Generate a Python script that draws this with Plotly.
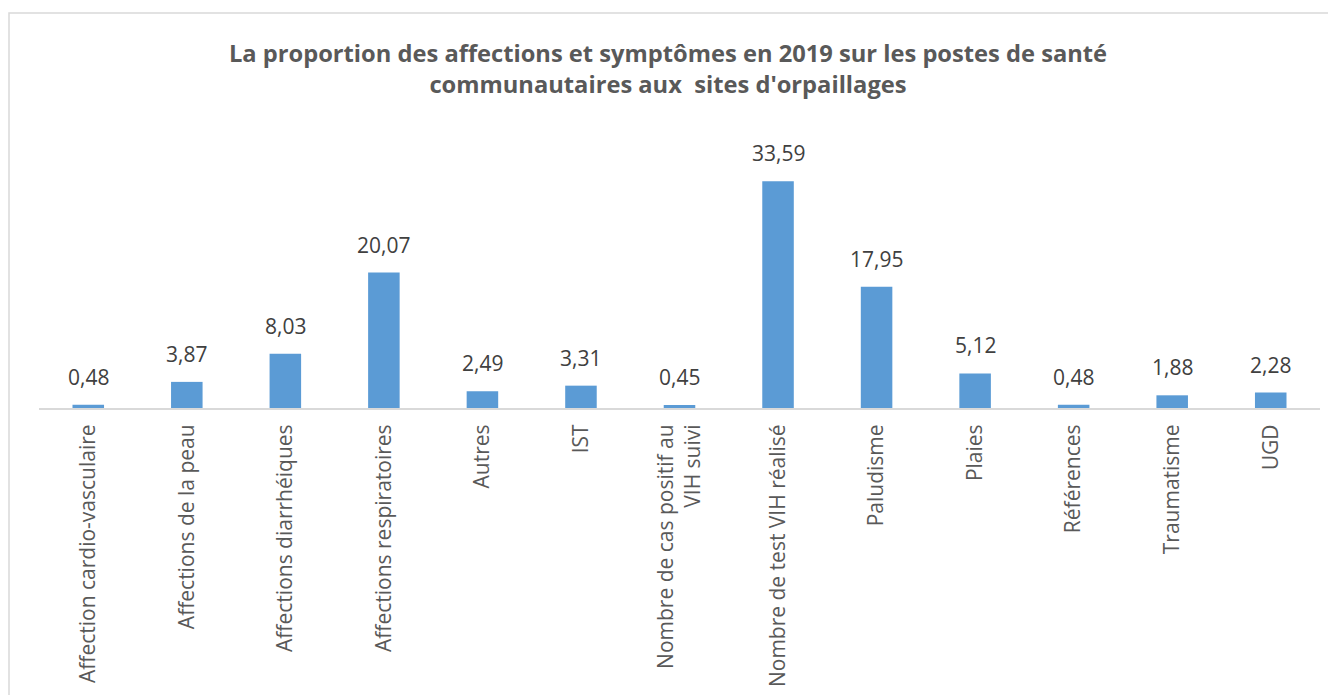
import plotly.graph_objects as go

categories = [
    "Affection cardio-vasculaire",
    "Affections de la peau",
    "Affections diarrhéiques",
    "Affections respiratoires",
    "Autres",
    "IST",
    "Nombre de cas positif au<br>VIH suivi",
    "Nombre de test VIH réalisé",
    "Paludisme",
    "Plaies",
    "Références",
    "Traumatisme",
    "UGD",
]
values = [0.48, 3.87, 8.03, 20.07, 2.49, 3.31, 0.45, 33.59, 17.95, 5.12, 0.48, 1.88, 2.28]
labels = [f"{v:.2f}".replace(".", ",") for v in values]

title = ("La proportion des affections et symptômes en 2019 sur les postes de santé"
         "<br>communautaires aux  sites d'orpaillages")

W, H = 1336, 695
OFF = 8  # page body margin
ml = 39 - OFF
mr = W - (1320 - OFF)
mt = 138 - OFF
mb = H - (408 - OFF)
pw = W - ml - mr
ph = H - mt - mb

fig = go.Figure(go.Bar(
    x=categories, y=values,
    marker=dict(color="#5B9BD5", line=dict(width=0)),
    cliponaxis=False,
))

annotations = [
    dict(x=c, y=v, xref="x", yref="y", text=t, showarrow=False,
         yanchor="bottom", yshift=12,
         font=dict(size=21, color="#404040", family="Open Sans"))
    for c, v, t in zip(categories, values, labels)
]

fig.update_layout(
    width=W, height=H,
    margin=dict(l=ml, r=mr, t=mt, b=mb),
    paper_bgcolor="white", plot_bgcolor="white",
    bargap=0.68,
    showlegend=False,
    font=dict(family="Open Sans", color="#595959"),
    title=dict(text=title, x=(668 - OFF) / W, xanchor="center", y=1 - (40 - OFF + 22) / H, yanchor="top",
               font=dict(size=23.7, color="#595959", family="Open Sans", weight="bold")),
    xaxis=dict(tickangle=-90, showline=True, linecolor="#d9d9d9", linewidth=2,
               ticks="", tickfont=dict(size=21, color="#595959"), showgrid=False,
               ticklabelstandoff=6),
    yaxis=dict(range=[0, 40], visible=False, showgrid=False),
    annotations=annotations,
    shapes=[dict(type="rect", xref="paper", yref="paper",
                 x0=(9 - OFF - ml) / pw, x1=(1345 - ml) / pw,
                 y0=(H - mb - 705) / ph, y1=(H - mb - (13 - OFF)) / ph,
                 line=dict(color="#d9d9d9", width=1.5), fillcolor="rgba(0,0,0,0)",
                 layer="below")],
)

fig.write_html("out.html")
